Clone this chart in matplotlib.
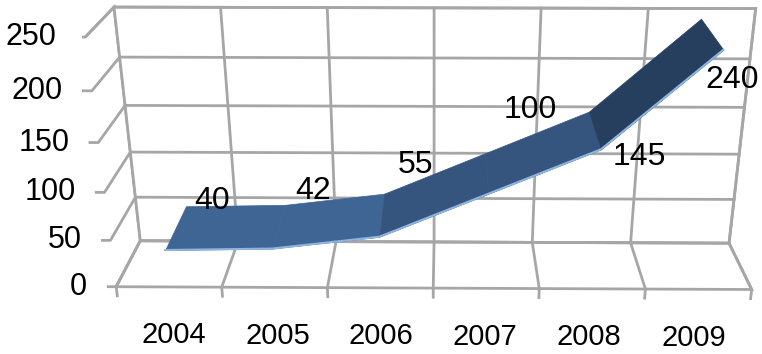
import matplotlib
matplotlib.use('Agg')
import matplotlib.pyplot as plt
from matplotlib.transforms import offset_copy
from mpl_toolkits.mplot3d import proj3d
from mpl_toolkits.mplot3d.art3d import Poly3DCollection

years = ['2004', '2005', '2006', '2007', '2008', '2009']
values = [40, 42, 55, 100, 145, 240]
value_ticks = [0, 50, 100, 150, 200, 250]

# label offsets (category units, value units) placed at the back edge of the ribbon
label_dx = [0.27, 0.29, 0.32, 0.43, 0.52, 0.35]
label_dz = [6, 16, 32, 46, -48, -62]

plt.rcParams['font.family'] = ['Liberation Sans', 'DejaVu Sans']

grey = '#A6A6A6'
grid_lw = 2.0

fig = plt.figure(figsize=(7.62, 3.54), dpi=100)
ax = fig.add_axes([0.108, -0.412, 0.898, 1.932], projection='3d',
                  proj_type='persp', focal_length=0.31, computed_zorder=False)
ax.view_init(elev=23, azim=-89.5)
ax.set_box_aspect((2.35, 0.366, 0.965), zoom=0.99)

n = len(years)
pos = list(range(1, n + 1))
x_lo, x_hi = 0.5, n + 0.5
z_lo, z_hi = value_ticks[0], value_ticks[-1]
ax.set_xlim(x_lo, x_hi)
ax.set_ylim(0, 1)
ax.set_zlim(z_lo, z_hi)

# no library ticks: walls and grid are drawn below
ax.set_xticks([])
ax.set_yticks([])
ax.set_zticks([])
ax.grid(False)

for axis in (ax.xaxis, ax.yaxis, ax.zaxis):
    axis.set_pane_color((1, 1, 1, 1))
    axis.pane.set_edgecolor(grey)
    axis.pane.set_linewidth(grid_lw)
    axis.line.set_linewidth(0)

# value gridlines: left wall + back wall, with outward tick marks
for v in value_ticks:
    ax.plot([x_lo - 0.075, x_lo, x_lo, x_hi], [0, 0, 1, 1], [v, v, v, v],
            color=grey, linewidth=grid_lw, zorder=1)

# category gridlines between categories: floor + back wall
bounds = [p - 0.5 for p in pos] + [x_hi]
for b in bounds:
    ax.plot([b, b, b, b], [0, 0, 1, 1], [z_lo - 10, z_lo, z_lo, z_hi],
            color=grey, linewidth=grid_lw, zorder=1)

# ribbon
seg_colors = ['#3E6594', '#3E6594', '#35557E', '#35557E', '#273F5F']
for i in range(n - 1):
    x0, x1 = pos[i], pos[i + 1]
    z0, z1 = values[i], values[i + 1]
    quad = [(x0, 0, z0), (x1, 0, z1), (x1, 1, z1), (x0, 1, z0)]
    ax.add_collection3d(Poly3DCollection([quad], facecolor=seg_colors[i],
                                         edgecolor=seg_colors[i], linewidth=0.5,
                                         zorder=3))
ax.plot(pos, [0] * n, values, color='#8DB4E2', linewidth=1.5, zorder=4)


def put_text(x, y, z, s, shift=0, **kw):
    # project the 3D anchor and place a plain 2D text there
    x2, y2, _ = proj3d.proj_transform(x, y, z, ax.get_proj())
    tr = offset_copy(ax.transData, fig=fig, x=shift, y=0, units='dots')
    ax.text2D(x2, y2, s, transform=tr, zorder=5, **kw)


# value axis labels
for v in value_ticks:
    put_text(x_lo, 0, v, str(v), shift=-29, ha='right', va='center', fontsize=22)

# category labels
for p, y in zip(pos, years):
    put_text(p, 0, -54, y, ha='center', va='center', fontsize=21)

# data labels
for p, v, dx, dz in zip(pos, values, label_dx, label_dz):
    put_text(p + dx, 1, v + dz, str(v), ha='center', va='center', fontsize=23)

fig.savefig('out.png', dpi=100)
